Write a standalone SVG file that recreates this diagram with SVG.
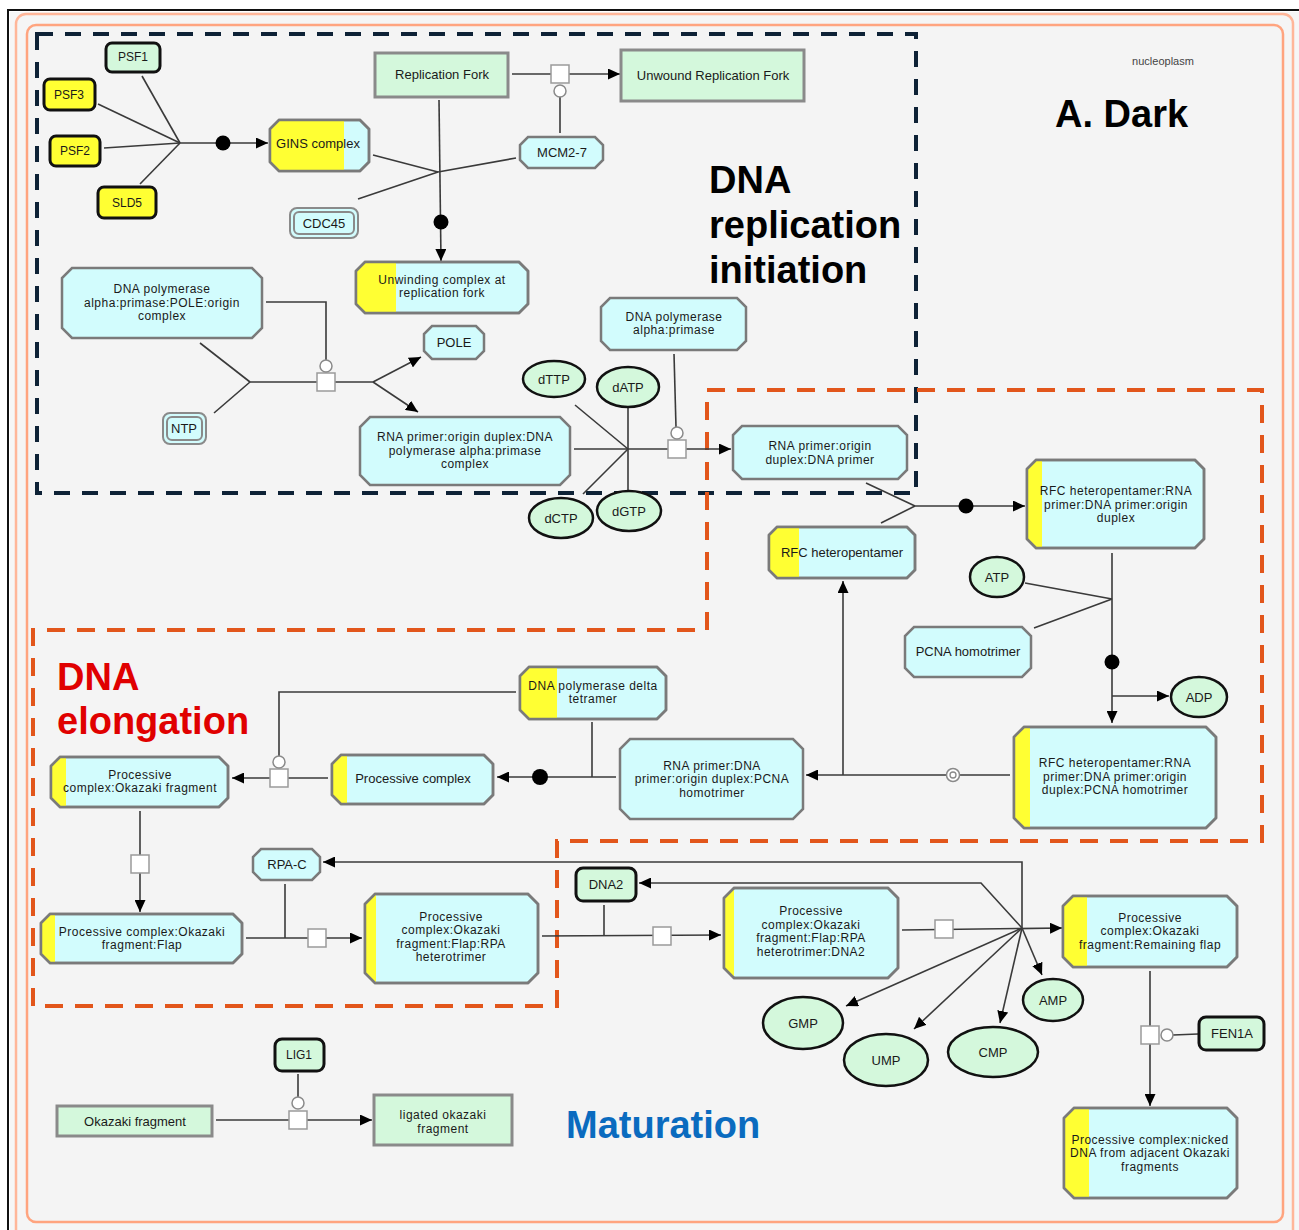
<svg xmlns="http://www.w3.org/2000/svg" width="1299" height="1230" viewBox="0 0 1299 1230">
<style>
.lbl{font-family:"Liberation Sans",Arial,sans-serif;font-size:13px;fill:#1a1a1a;text-anchor:middle}
.sm{font-size:12px}
.ml{font-size:12px;letter-spacing:0.5px}
.title{font-family:"Liberation Sans",Arial,sans-serif;font-weight:bold;font-size:38px}
.oct{fill:#d2fcfd;stroke:#7a7a7a;stroke-width:2.5}
.octo{fill:none;stroke:#7a7a7a;stroke-width:2.5}
.yel{fill:#ffff33}
.grect{fill:#d4f8dc;stroke:#8a8a8a;stroke-width:3}
.gprot{fill:#d4f8dc;stroke:#111;stroke-width:3}
.yprot{fill:#ffff33;stroke:#111;stroke-width:3}
.ell{fill:#d4f8dc;stroke:#111;stroke-width:2.5}
.dbl{fill:#d2fcfd;stroke:#8a8a8a;stroke-width:2}
.ln{fill:none;stroke:#3a3a3a;stroke-width:1.6}
.arr{fill:none;stroke:#3a3a3a;stroke-width:1.6;marker-end:url(#ah)}
.sq{fill:#fff;stroke:#9a9a9a;stroke-width:1.5}
.cat{fill:#fff;stroke:#8a8a8a;stroke-width:1.5}
.dot{fill:#000}
</style>
<defs>
<marker id="ah" markerWidth="13" markerHeight="11" refX="12" refY="5.5" orient="auto" markerUnits="userSpaceOnUse">
<path d="M0,0 L12,5.5 L0,11 z" fill="#000"/>
</marker>
</defs>
<rect x="0" y="0" width="1299" height="1230" fill="#fff"/>
<g id="frame">
<path d="M8,1230 V10 H1299" fill="none" stroke="#111" stroke-width="2"/>
<rect x="10" y="12" width="1289" height="1218" fill="#f6f6f6"/>
<rect x="16" y="14" width="1277" height="1230" rx="10" fill="#f5f5f5" stroke="#ffb699" stroke-width="2.5"/>
<rect x="27" y="25" width="1256" height="1197" rx="9" fill="#f4f4f4" stroke="#ffa47f" stroke-width="2.5"/>
</g>
<g id="regions">
<rect x="37" y="34" width="879" height="459" fill="none" stroke="#0e2236" stroke-width="4" stroke-dasharray="16 12"/>
<path d="M707,390 H1262 V841 H557 V1006 H33 V630 H707 Z" fill="none" stroke="#e2561b" stroke-width="4" stroke-dasharray="18 12"/>
</g>
<g id="connectors">
<line class="ln" x1="142" y1="76" x2="180" y2="143"/>
<line class="ln" x1="98" y1="104" x2="180" y2="143"/>
<line class="ln" x1="104" y1="148" x2="180" y2="143"/>
<line class="ln" x1="140" y1="184" x2="180" y2="143"/>
<line class="arr" x1="180" y1="143" x2="268" y2="143"/>
<circle class="dot" cx="223" cy="143" r="7.5"/>
<line class="arr" x1="512" y1="74" x2="620" y2="74"/>
<line class="ln" x1="560" y1="133" x2="560" y2="97"/>
<line class="ln" x1="373" y1="155" x2="438" y2="172"/>
<line class="ln" x1="358" y1="199" x2="438" y2="172"/>
<line class="ln" x1="516" y1="158" x2="438" y2="172"/>
<line class="arr" x1="439" y1="100" x2="441" y2="261"/>
<circle class="dot" cx="441" cy="222" r="7.5"/>
<line class="ln" x1="200" y1="343" x2="250" y2="382"/>
<line class="ln" x1="214" y1="413" x2="250" y2="382"/>
<line class="ln" x1="250" y1="382" x2="373" y2="382"/>
<polyline class="ln" points="266,302 326,302 326,360"/>
<line class="arr" x1="373" y1="382" x2="421" y2="357"/>
<line class="arr" x1="373" y1="382" x2="418" y2="412"/>
<line class="ln" x1="574" y1="449" x2="628" y2="449"/>
<line class="ln" x1="575" y1="405" x2="628" y2="449"/>
<line class="ln" x1="628" y1="407" x2="628" y2="491"/>
<line class="ln" x1="583" y1="494" x2="628" y2="449"/>
<line class="arr" x1="628" y1="449" x2="731" y2="449"/>
<line class="ln" x1="674" y1="354" x2="676" y2="427"/>
<line class="ln" x1="866" y1="483" x2="915" y2="506"/>
<line class="ln" x1="881" y1="523" x2="915" y2="506"/>
<line class="arr" x1="915" y1="506" x2="1025" y2="506"/>
<circle class="dot" cx="966" cy="506" r="7.5"/>
<line class="arr" x1="1112" y1="553" x2="1112" y2="723"/>
<circle class="dot" cx="1112" cy="662" r="7.5"/>
<line class="ln" x1="1025" y1="583" x2="1112" y2="599"/>
<line class="ln" x1="1034" y1="628" x2="1112" y2="599"/>
<line class="arr" x1="1112" y1="696" x2="1169" y2="696"/>
<line class="arr" x1="1010" y1="775" x2="806" y2="775"/>
<line class="arr" x1="843" y1="775" x2="843" y2="581"/>
<line class="arr" x1="616" y1="777" x2="497" y2="777"/>
<circle class="dot" cx="540" cy="777" r="8"/>
<line class="ln" x1="592" y1="722" x2="592" y2="777"/>
<polyline class="ln" points="516,692 279,692 279,756"/>
<line class="arr" x1="328" y1="778" x2="232" y2="778"/>
<line class="arr" x1="140" y1="811" x2="140" y2="912"/>
<line class="arr" x1="246" y1="938" x2="362" y2="938"/>
<line class="ln" x1="285" y1="884" x2="285" y2="938"/>
<polyline class="arr" points="1022,928 1022,862 323,862"/>
<line class="arr" x1="542" y1="936" x2="721" y2="935"/>
<line class="ln" x1="604" y1="905" x2="604" y2="936"/>
<line class="arr" x1="902" y1="930" x2="1062" y2="928"/>
<polyline class="arr" points="1022,928 981,883 639,883"/>
<line class="arr" x1="1022" y1="928" x2="846" y2="1006"/>
<line class="arr" x1="1022" y1="928" x2="914" y2="1029"/>
<line class="arr" x1="1022" y1="928" x2="1000" y2="1023"/>
<line class="arr" x1="1022" y1="928" x2="1042" y2="975"/>
<line class="arr" x1="1150" y1="971" x2="1150" y2="1106"/>
<line class="ln" x1="1198" y1="1034" x2="1173" y2="1035"/>
<line class="arr" x1="216" y1="1120" x2="372" y2="1120"/>
<line class="ln" x1="298" y1="1074" x2="298" y2="1097"/>
<rect class="sq" x="551" y="65" width="18" height="18"/>
<circle class="cat" cx="560" cy="91" r="6"/>
<rect class="sq" x="317" y="373" width="18" height="18"/>
<circle class="cat" cx="326" cy="366" r="6"/>
<rect class="sq" x="668" y="440" width="18" height="18"/>
<circle class="cat" cx="677" cy="433" r="6"/>
<circle class="cat" cx="953" cy="775" r="6.5"/>
<circle cx="953" cy="775" r="3" fill="none" stroke="#8a8a8a" stroke-width="1.3"/>
<rect class="sq" x="270" y="769" width="18" height="18"/>
<circle class="cat" cx="279" cy="762" r="6"/>
<rect class="sq" x="131" y="855" width="18" height="18"/>
<rect class="sq" x="308" y="929" width="18" height="18"/>
<rect class="sq" x="653" y="927" width="18" height="18"/>
<rect class="sq" x="935" y="920" width="18" height="18"/>
<rect class="sq" x="1141" y="1026" width="18" height="18"/>
<circle class="cat" cx="1167" cy="1035" r="6"/>
<rect class="sq" x="289" y="1111" width="18" height="18"/>
<circle class="cat" cx="298" cy="1103" r="6"/>
</g>
<g id="n-psf1"><rect class="gprot" x="106" y="43" width="54" height="29" rx="6"/><text class="lbl sm" x="133" y="61">PSF1</text></g>
<g id="n-psf3"><rect class="yprot" x="44" y="79" width="51" height="31" rx="6"/><text class="lbl sm" x="69" y="99">PSF3</text></g>
<g id="n-psf2"><rect class="yprot" x="50" y="136" width="50" height="30" rx="6"/><text class="lbl sm" x="75" y="155">PSF2</text></g>
<g id="n-sld5"><rect class="yprot" x="98" y="187" width="58" height="31" rx="6"/><text class="lbl sm" x="127" y="207">SLD5</text></g>
<g id="n-gins"><polygon class="oct" points="279,120 360,120 369,129 369,162 360,171 279,171 270,162 270,129"/><polygon class="yel" points="279,120 344,120 344,171 279,171 270,162 270,129"/><polygon class="octo" points="279,120 360,120 369,129 369,162 360,171 279,171 270,162 270,129"/><text class="lbl" x="318" y="147.5">GINS complex</text></g>
<g id="n-cdc45"><rect class="dbl" x="290" y="208" width="68" height="30" rx="7"/><rect x="294" y="212" width="60" height="22" rx="5" fill="none" stroke="#8a8a8a" stroke-width="2"/><text class="lbl" x="324" y="227.5">CDC45</text></g>
<g id="n-repfork"><rect class="grect" x="375" y="53" width="133" height="44"/><text class="lbl" x="442" y="78.5">Replication Fork</text></g>
<g id="n-unwound"><rect class="grect" x="621" y="50" width="183" height="51"/><text class="lbl" x="713" y="79.5">Unwound Replication Fork</text></g>
<g id="n-mcm"><polygon class="oct" points="528,137 595,137 603,145 603,160 595,168 528,168 520,160 520,145"/><text class="lbl" x="562" y="157">MCM2-7</text></g>
<g id="n-unwinding"><polygon class="oct" points="365,262 519,262 528,271 528,304 519,313 365,313 356,304 356,271"/><polygon class="yel" points="365,262 396,262 396,313 365,313 356,304 356,271"/><polygon class="octo" points="365,262 519,262 528,271 528,304 519,313 365,313 356,304 356,271"/><text class="lbl ml" x="442" y="283.5">Unwinding complex at</text><text class="lbl ml" x="442" y="297">replication fork</text></g>
<g id="n-polorigin"><polygon class="oct" points="72,268 252,268 262,278 262,328 252,338 72,338 62,328 62,278"/><text class="lbl ml" x="162" y="293">DNA polymerase</text><text class="lbl ml" x="162" y="306.5">alpha:primase:POLE:origin</text><text class="lbl ml" x="162" y="320">complex</text></g>
<g id="n-ntp"><rect class="dbl" x="163" y="413" width="43" height="31" rx="7"/><rect x="167" y="417" width="35" height="23" rx="5" fill="none" stroke="#8a8a8a" stroke-width="2"/><text class="lbl" x="184" y="432.5">NTP</text></g>
<g id="n-pole"><polygon class="oct" points="432,326 476,326 484,334 484,351 476,359 432,359 424,351 424,334"/><text class="lbl" x="454" y="346.5">POLE</text></g>
<g id="n-rnaprimcx"><polygon class="oct" points="370,417 560,417 570,427 570,475 560,485 370,485 360,475 360,427"/><text class="lbl ml" x="465" y="441">RNA primer:origin duplex:DNA</text><text class="lbl ml" x="465" y="454.5">polymerase alpha:primase</text><text class="lbl ml" x="465" y="468">complex</text></g>
<g id="n-polalpha"><polygon class="oct" points="610,298 737,298 746,307 746,341 737,350 610,350 601,341 601,307"/><text class="lbl ml" x="674" y="320.5">DNA polymerase</text><text class="lbl ml" x="674" y="334">alpha:primase</text></g>
<g id="n-dttp"><ellipse class="ell" cx="554" cy="379" rx="31" ry="18"/><text class="lbl" x="554" y="383.5">dTTP</text></g>
<g id="n-datp"><ellipse class="ell" cx="628" cy="387" rx="31" ry="20"/><text class="lbl" x="628" y="391.5">dATP</text></g>
<g id="n-dctp"><ellipse class="ell" cx="561" cy="518" rx="32" ry="20"/><text class="lbl" x="561" y="522.5">dCTP</text></g>
<g id="n-dgtp"><ellipse class="ell" cx="629" cy="511" rx="32" ry="20"/><text class="lbl" x="629" y="515.5">dGTP</text></g>
<g id="n-rnadna"><polygon class="oct" points="742,426 898,426 907,435 907,470 898,479 742,479 733,470 733,435"/><text class="lbl ml" x="820" y="450">RNA primer:origin</text><text class="lbl ml" x="820" y="463.5">duplex:DNA primer</text></g>
<g id="n-rfc"><polygon class="oct" points="777,527 907,527 915,535 915,570 907,578 777,578 769,570 769,535"/><polygon class="yel" points="777,527 799,527 799,578 777,578 769,570 769,535"/><polygon class="octo" points="777,527 907,527 915,535 915,570 907,578 777,578 769,570 769,535"/><text class="lbl" x="842" y="556.5">RFC heteropentamer</text></g>
<g id="n-rfcrna"><polygon class="oct" points="1036,460 1195,460 1204,469 1204,539 1195,548 1036,548 1027,539 1027,469"/><polygon class="yel" points="1036,460 1042,460 1042,548 1036,548 1027,539 1027,469"/><polygon class="octo" points="1036,460 1195,460 1204,469 1204,539 1195,548 1036,548 1027,539 1027,469"/><text class="lbl ml" x="1116" y="495">RFC heteropentamer:RNA</text><text class="lbl ml" x="1116" y="508.5">primer:DNA primer:origin</text><text class="lbl ml" x="1116" y="522">duplex</text></g>
<g id="n-atp"><ellipse class="ell" cx="997" cy="577" rx="27" ry="20"/><text class="lbl" x="997" y="581.5">ATP</text></g>
<g id="n-pcna"><polygon class="oct" points="914,627 1022,627 1031,636 1031,668 1022,677 914,677 905,668 905,636"/><text class="lbl" x="968" y="655.5">PCNA homotrimer</text></g>
<g id="n-adp"><ellipse class="ell" cx="1199" cy="697" rx="28" ry="20"/><text class="lbl" x="1199" y="701.5">ADP</text></g>
<g id="n-rfcpcna"><polygon class="oct" points="1024,727 1206,727 1216,737 1216,818 1206,828 1024,828 1014,818 1014,737"/><polygon class="yel" points="1024,727 1030,727 1030,828 1024,828 1014,818 1014,737"/><polygon class="octo" points="1024,727 1206,727 1216,737 1216,818 1206,828 1024,828 1014,818 1014,737"/><text class="lbl ml" x="1115" y="767">RFC heteropentamer:RNA</text><text class="lbl ml" x="1115" y="780.5">primer:DNA primer:origin</text><text class="lbl ml" x="1115" y="794">duplex:PCNA homotrimer</text></g>
<g id="n-rnapcna"><polygon class="oct" points="630,739 793,739 803,749 803,809 793,819 630,819 620,809 620,749"/><text class="lbl ml" x="712" y="769.5">RNA primer:DNA</text><text class="lbl ml" x="712" y="783">primer:origin duplex:PCNA</text><text class="lbl ml" x="712" y="796.5">homotrimer</text></g>
<g id="n-poldelta"><polygon class="oct" points="529,667 657,667 666,676 666,710 657,719 529,719 520,710 520,676"/><polygon class="yel" points="529,667 557,667 557,719 529,719 520,710 520,676"/><polygon class="octo" points="529,667 657,667 666,676 666,710 657,719 529,719 520,710 520,676"/><text class="lbl ml" x="593" y="689.5">DNA polymerase delta</text><text class="lbl ml" x="593" y="703">tetramer</text></g>
<g id="n-proc"><polygon class="oct" points="341,755 484,755 493,764 493,795 484,804 341,804 332,795 332,764"/><polygon class="yel" points="341,755 347,755 347,804 341,804 332,795 332,764"/><polygon class="octo" points="341,755 484,755 493,764 493,795 484,804 341,804 332,795 332,764"/><text class="lbl" x="413" y="782.5">Processive complex</text></g>
<g id="n-procok"><polygon class="oct" points="60,757 219,757 228,766 228,798 219,807 60,807 51,798 51,766"/><polygon class="yel" points="60,757 66,757 66,807 60,807 51,798 51,766"/><polygon class="octo" points="60,757 219,757 228,766 228,798 219,807 60,807 51,798 51,766"/><text class="lbl ml" x="140" y="778.5">Processive</text><text class="lbl ml" x="140" y="792">complex:Okazaki fragment</text></g>
<g id="n-flap"><polygon class="oct" points="50,914 233,914 242,923 242,954 233,963 50,963 41,954 41,923"/><polygon class="yel" points="50,914 55,914 55,963 50,963 41,954 41,923"/><polygon class="octo" points="50,914 233,914 242,923 242,954 233,963 50,963 41,954 41,923"/><text class="lbl ml" x="142" y="935.5">Processive complex:Okazaki</text><text class="lbl ml" x="142" y="949">fragment:Flap</text></g>
<g id="n-rpac"><polygon class="oct" points="261,849 312,849 320,857 320,872 312,880 261,880 253,872 253,857"/><text class="lbl" x="287" y="868.5">RPA-C</text></g>
<g id="n-rpa"><polygon class="oct" points="375,894 528,894 538,904 538,973 528,983 375,983 365,973 365,904"/><polygon class="yel" points="375,894 376,894 376,983 375,983 365,973 365,904"/><polygon class="octo" points="375,894 528,894 538,904 538,973 528,983 375,983 365,973 365,904"/><text class="lbl ml" x="451" y="920.5">Processive</text><text class="lbl ml" x="451" y="934">complex:Okazaki</text><text class="lbl ml" x="451" y="947.5">fragment:Flap:RPA</text><text class="lbl ml" x="451" y="961">heterotrimer</text></g>
<g id="n-dna2"><rect class="gprot" x="576" y="868" width="60" height="33" rx="7"/><text class="lbl" x="606" y="888.5">DNA2</text></g>
<g id="n-dna2cx"><polygon class="oct" points="734,888 888,888 898,898 898,968 888,978 734,978 724,968 724,898"/><polygon class="yel" points="734,888 734,978 724,968 724,898"/><polygon class="octo" points="734,888 888,888 898,898 898,968 888,978 734,978 724,968 724,898"/><text class="lbl ml" x="811" y="915">Processive</text><text class="lbl ml" x="811" y="928.5">complex:Okazaki</text><text class="lbl ml" x="811" y="942">fragment:Flap:RPA</text><text class="lbl ml" x="811" y="955.5">heterotrimer:DNA2</text></g>
<g id="n-remflap"><polygon class="oct" points="1073,896 1227,896 1237,906 1237,957 1227,967 1073,967 1063,957 1063,906"/><polygon class="yel" points="1073,896 1087,896 1087,967 1073,967 1063,957 1063,906"/><polygon class="octo" points="1073,896 1227,896 1237,906 1237,957 1227,967 1073,967 1063,957 1063,906"/><text class="lbl ml" x="1150" y="921.5">Processive</text><text class="lbl ml" x="1150" y="935">complex:Okazaki</text><text class="lbl ml" x="1150" y="948.5">fragment:Remaining flap</text></g>
<g id="n-gmp"><ellipse class="ell" cx="803" cy="1023" rx="40" ry="26"/><text class="lbl" x="803" y="1027.5">GMP</text></g>
<g id="n-ump"><ellipse class="ell" cx="886" cy="1060" rx="42" ry="26"/><text class="lbl" x="886" y="1064.5">UMP</text></g>
<g id="n-cmp"><ellipse class="ell" cx="993" cy="1052" rx="45" ry="25"/><text class="lbl" x="993" y="1056.5">CMP</text></g>
<g id="n-amp"><ellipse class="ell" cx="1053" cy="1000" rx="30" ry="21"/><text class="lbl" x="1053" y="1004.5">AMP</text></g>
<g id="n-fen1a"><rect class="gprot" x="1199" y="1017" width="65" height="33" rx="7"/><text class="lbl" x="1232" y="1037.5">FEN1A</text></g>
<g id="n-nicked"><polygon class="oct" points="1074,1108 1227,1108 1237,1118 1237,1188 1227,1198 1074,1198 1064,1188 1064,1118"/><polygon class="yel" points="1074,1108 1089,1108 1089,1198 1074,1198 1064,1188 1064,1118"/><polygon class="octo" points="1074,1108 1227,1108 1237,1118 1237,1188 1227,1198 1074,1198 1064,1188 1064,1118"/><text class="lbl ml" x="1150" y="1143.5">Processive complex:nicked</text><text class="lbl ml" x="1150" y="1157">DNA from adjacent Okazaki</text><text class="lbl ml" x="1150" y="1170.5">fragments</text></g>
<g id="n-lig1"><rect class="gprot" x="275" y="1039" width="49" height="32" rx="7"/><text class="lbl sm" x="299" y="1058.5">LIG1</text></g>
<g id="n-okazaki"><rect class="grect" x="57" y="1106" width="155" height="30"/><text class="lbl" x="135" y="1125.5">Okazaki fragment</text></g>
<g id="n-ligated"><rect class="grect" x="374" y="1095" width="138" height="50"/><text class="lbl ml" x="443" y="1119">ligated okazaki</text><text class="lbl ml" x="443" y="1132.5">fragment</text></g>
<g id="labels">
<text x="1163" y="65" font-family="Liberation Sans, Arial, sans-serif" font-size="11" fill="#444" text-anchor="middle">nucleoplasm</text>
<text class="title" x="1055" y="127" fill="#000">A. Dark</text>
<text class="title" x="709" y="193" fill="#000">DNA</text>
<text class="title" x="709" y="238" fill="#000">replication</text>
<text class="title" x="709" y="283" fill="#000">initiation</text>
<text class="title" x="57" y="690" fill="#e00000">DNA</text>
<text class="title" x="57" y="734" fill="#e00000">elongation</text>
<text class="title" x="566" y="1138" fill="#0a6bbf">Maturation</text>
</g>
</svg>
